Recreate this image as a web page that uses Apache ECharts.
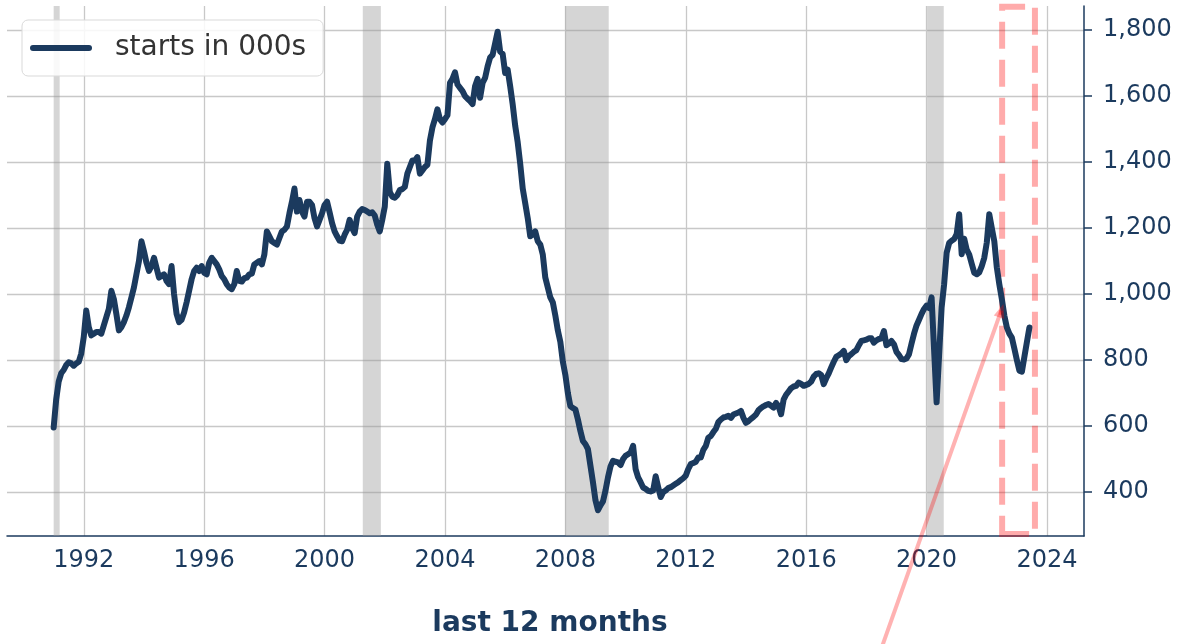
<!DOCTYPE html>
<html>
<head>
<meta charset="utf-8">
<script src="https://cdn.jsdelivr.net/npm/echarts@6/dist/echarts.min.js"></script>
<style>
  html, body { margin: 0; padding: 0; background: #fff; }
  #chart { width: 1185px; height: 644px; }
</style>
</head>
<body>
<div id="chart"></div>
<script>
// monthly single-family starts, thousands, Jan 1991 .. Jun 2023
const startYear = 1991;
const starts = [
  596, 680, 735, 760, 770, 785, 793, 790, 783, 790, 795, 820,           // 1991
  870, 950, 900, 875, 880, 885, 885, 880, 905, 930, 955, 1010,          // 1992
  985, 940, 890, 900, 915, 935, 960, 990, 1020, 1060, 1100, 1160,       // 1993
  1130, 1095, 1070, 1085, 1110, 1080, 1050, 1055, 1060, 1040, 1030, 1085, // 1994
  1000, 940, 915, 922, 944, 975, 1010, 1045, 1070, 1080, 1070, 1085,    // 1995
  1065, 1060, 1095, 1110, 1100, 1090, 1075, 1055, 1045, 1030, 1020, 1015, // 1996
  1030, 1070, 1040, 1038, 1048, 1050, 1060, 1062, 1090, 1095, 1100, 1090, // 1997
  1120, 1190, 1175, 1160, 1155, 1150, 1170, 1190, 1195, 1205, 1245, 1280, // 1998
  1320, 1250, 1285, 1250, 1235, 1280, 1280, 1270, 1230, 1205, 1225, 1245, // 1999
  1270, 1280, 1248, 1215, 1190, 1175, 1162, 1160, 1180, 1195, 1225, 1200, // 2000
  1185, 1235, 1250, 1258, 1255, 1250, 1245, 1248, 1238, 1210, 1190, 1225, // 2001
  1265, 1395, 1310, 1295, 1292, 1300, 1315, 1318, 1325, 1365, 1385, 1405, // 2002
  1405, 1415, 1365, 1375, 1385, 1392, 1465, 1505, 1530, 1560, 1530, 1520, // 2003
  1530, 1542, 1640, 1652, 1672, 1635, 1625, 1615, 1600, 1592, 1585, 1576, // 2004
  1630, 1652, 1595, 1640, 1655, 1690, 1717, 1725, 1760, 1795, 1735, 1728, // 2005
  1670, 1680, 1630, 1575, 1510, 1460, 1395, 1320, 1275, 1230, 1175, 1182, // 2006
  1190, 1160, 1150, 1120, 1050, 1020, 990, 975, 935, 890, 855, 795,     // 2007
  755, 700, 660, 655, 650, 620, 585, 555, 545, 530, 480, 430,           // 2008
  375, 345, 360, 372, 405, 445, 478, 495, 492, 490, 482, 500,           // 2009
  510, 515, 520, 540, 470, 445, 430, 414, 410, 404, 402, 405,           // 2010
  448, 415, 385, 400, 405, 412, 415, 420, 425, 430, 436, 442,           // 2011
  450, 470, 485, 488, 492, 505, 505, 528, 540, 565, 570, 582,           // 2012
  592, 612, 620, 626, 628, 631, 625, 635, 638, 641, 646, 625,           // 2013
  610, 615, 622, 628, 635, 648, 655, 660, 664, 667, 662, 656,           // 2014
  670, 660, 636, 680, 695, 705, 715, 720, 722, 732, 728, 722,           // 2015
  725, 728, 735, 750, 758, 760, 755, 727, 745, 760, 778, 795,           // 2016
  810, 815, 820, 828, 800, 812, 818, 825, 830, 845, 858, 860,           // 2017
  862, 866, 866, 853, 860, 864, 866, 888, 845, 850, 858, 848,           // 2018
  825, 815, 803, 802, 805, 818, 850, 880, 905, 922, 940, 955,           // 2019
  965, 958, 990, 830, 672, 815, 960, 1030, 1125, 1155, 1162, 1167,      // 2020
  1182, 1242, 1121, 1168, 1135, 1120, 1092, 1065, 1060, 1066, 1085, 1110, // 2021
  1156, 1242, 1200, 1160, 1081, 1030, 985, 935, 899, 880, 868, 835,     // 2022
  800, 768, 765, 810, 855, 899                                          // 2023
];

// recession shading, decimal years
const recessions = [[1991.0, 1991.2], [2001.27, 2001.87], [2008.0, 2009.44], [2020.02, 2020.57]];

// "last 12 months" box and the arrow that points down to it
const insetBox = [[2022.51, 273], [2023.6, 1871]];
const connectorTip = [2022.48, 950];
const connectorFoot = [2018.54, -63];

const xTicks = [1992, 1996, 2000, 2004, 2008, 2012, 2016, 2020, 2024];
const yTicks = [400, 600, 800, 1000, 1200, 1400, 1600, 1800];

const navy = '#1b3a5e';
const font = 'DejaVu Sans';

const lineData = starts.map((v, i) => [startYear + i / 12, v]);

let chart = echarts.init(document.getElementById('chart'));
chart.setOption({
    animation: false,
    textStyle: { fontFamily: font },
    grid: { left: 7, right: 101, top: 6, bottom: 108, outerBoundsMode: 'none' },
    title: {
        text: 'last 12 months',
        left: 545,
        top: 605,
        textAlign: 'center',
        textStyle: { fontFamily: font, fontSize: 28, fontWeight: 'bold', color: navy }
    },
    legend: {
        data: ['starts in 000s'],
        left: 22,
        top: 20,
        padding: [13, 17, 13, 8],
        itemWidth: 62,
        itemHeight: 6,
        icon: 'path://M3,0 H59 A3,3 0 0 1 59,6 H3 A3,3 0 0 1 3,0 Z',
        backgroundColor: 'rgba(255,255,255,0.85)',
        borderColor: '#d9d9d9',
        borderWidth: 1,
        borderRadius: 6,
        textStyle: { fontFamily: font, fontSize: 28, color: '#333333', padding: [0, 0, 0, 18], lineHeight: 30 }
    },
    xAxis: {
        type: 'value',
        min: 1989.45,
        max: 2025.23,
        axisLine: { show: true, onZero: false, lineStyle: { color: navy, width: 1.5 } },
        axisTick: { show: false, customValues: xTicks },
        axisLabel: {
            customValues: xTicks,
            formatter: v => String(v),
            color: navy,
            fontSize: 24,
            fontFamily: font,
            margin: 13
        },
        splitLine: { show: true, lineStyle: { color: '#c8c8c8', width: 1.3 } }
    },
    yAxis: {
        type: 'value',
        position: 'right',
        min: 267,
        max: 1873,
        axisLine: { show: true, lineStyle: { color: navy, width: 1.5 } },
        axisTick: { show: true, length: 8, customValues: yTicks, lineStyle: { color: navy, width: 1.5 } },
        axisLabel: {
            customValues: yTicks,
            formatter: v => Number(v).toLocaleString('en-US'),
            color: navy,
            fontSize: 24,
            fontFamily: font,
            margin: 19
        },
        splitLine: { show: true, lineStyle: { color: '#c8c8c8', width: 1.3 } }
    },
    series: [
        {
            name: 'starts in 000s',
            type: 'line',
            data: lineData,
            showSymbol: false,
            z: 3,
            color: navy,
            lineStyle: { color: navy, width: 6, cap: 'round', join: 'round' },
            markArea: {
                silent: true,
                label: { show: false },
                data: recessions.map(r => [
                    { xAxis: r[0], itemStyle: { color: 'rgba(150,150,150,0.4)' } },
                    { xAxis: r[1] }
                ])
            }
        },
        {
            name: 'inset',
            type: 'line',
            data: [],
            z: 4,
            markArea: {
                silent: true,
                label: { show: false },
                data: [[
                    {
                        xAxis: insetBox[0][0], yAxis: insetBox[0][1],
                        itemStyle: {
                            color: 'rgba(0,0,0,0)',
                            borderColor: 'rgba(255,0,0,0.33)',
                            borderWidth: 6,
                            borderType: [27, 11]
                        }
                    },
                    { xAxis: insetBox[1][0], yAxis: insetBox[1][1] }
                ]]
            }
        },
        {
            name: 'connector',
            type: 'line',
            data: [
                { value: connectorFoot, symbol: 'none' },
                { value: connectorTip, symbol: 'triangle', symbolSize: [11, 14], symbolRotate: -19 }
            ],
            clip: false,
            showSymbol: true,
            silent: true,
            z: 5,
            itemStyle: { color: 'rgba(255,0,0,0.3)', borderWidth: 0 },
            lineStyle: { color: 'rgba(255,0,0,0.3)', width: 4 }
        }
    ]
});
</script>
</body>
</html>
